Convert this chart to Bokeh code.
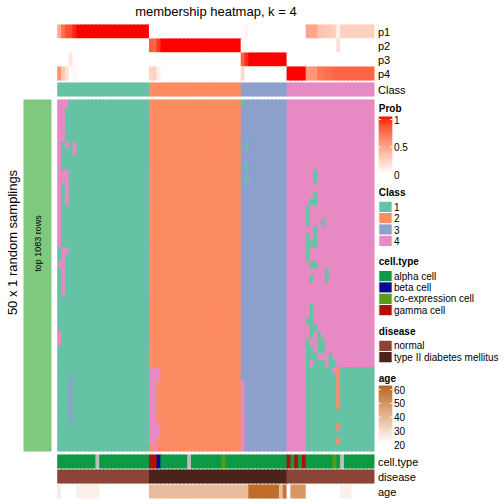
import math
import numpy as np
from bokeh.plotting import figure
from bokeh.models import Range1d
from bokeh.embed import file_html
from bokeh.resources import INLINE
from bokeh.core.properties import value

# ---------------- data ----------------
n_rows = 50
class_labels = ["1", "2", "3", "4"]
class_sizes = [24, 24, 12, 23]          # columns of each consensus class, in column order
class_colors = ["#66C2A5", "#FC8D62", "#8DA0CB", "#E78AC3"]

p1 = [0.44, 0.70, 0.84, 0.86, 0.96] + [1.0]*19 + [0.0]*24 + [0.02, 0.06] + [0.0]*10 + [0.0]*5 + [0.48, 0.46, 0.46, 0.32, 0.32, 0.28, 0.28, 0.24, 0.08] + [0.24]*9
p2 = [0.0]*24 + [0.78, 0.76, 0.92] + [1.0]*21 + [0.0]*12 + [0.0]*13 + [0.16] + [0.0]*9
p3 = [0.0, 0.0, 0.0, 0.14, 0.0] + [0.0]*19 + [0.0]*24 + [0.78, 0.94] + [1.0]*10 + [0.0]*23
p4 = [0.56, 0.30, 0.16, 0.0, 0.04] + [0.0]*19 + [0.22, 0.24, 0.08] + [0.0]*21 + [0.20, 0.0] + [0.0]*10 + [1.0]*5 + [0.52, 0.54, 0.54, 0.68, 0.68, 0.72, 0.72, 0.76, 0.76] + [0.76]*9

# cells of the 50 x 83 membership matrix that differ from their column's class:
# (first row, last row, columns, class shown)
deviations = [
    (0, 0, [0, 1, 2], 4), (1, 5, [0, 1], 4), (6, 6, [0, 2, 4], 4), (7, 7, [0, 4], 4),
    (8, 9, [0], 4), (10, 11, [0, 1, 2], 4), (12, 14, [0, 2], 4), (15, 20, [0], 4),
    (21, 21, [1, 2], 4), (22, 22, [1], 4), (23, 23, [0, 1], 4), (24, 27, [1], 4),
    (33, 34, [0], 4), (39, 45, [3], 3),
    (38, 39, [24, 25, 26], 4), (40, 45, [24, 25], 4), (46, 47, [24, 25, 26], 4),
    (48, 48, [24, 25], 4), (49, 49, [25], 4),
    (0, 0, [48], 1), (6, 6, [49], 1), (9, 9, [49], 1), (11, 11, [49], 1),
    (40, 49, [48], 4),
    (10, 11, [67], 1), (13, 13, [67], 1), (14, 14, [66, 67], 1), (15, 17, [65], 1),
    (17, 17, [69], 1), (18, 18, [67], 1), (19, 19, [65, 67], 1), (20, 20, [65, 66, 67], 1),
    (21, 22, [65], 1), (23, 23, [66, 67], 1), (24, 24, [70], 1), (25, 25, [66, 70], 1),
    (29, 30, [66], 1), (31, 31, [65, 66], 1), (32, 32, [66, 67], 1), (33, 33, [66, 68], 1),
    (34, 34, [65, 68, 69], 1), (35, 35, [65, 66, 68, 69], 1), (36, 36, [65, 66, 67, 71], 1),
    (37, 37, [65, 67, 68, 69, 71, 72], 1),
    (38, 49, list(range(65, 83)), 1), (38, 38, [72], 4),
    (38, 43, [73], 2), (46, 46, [73], 2), (48, 48, [73], 2),
]

cell_type_names = ["alpha cell", "beta cell", "co-expression cell", "gamma cell"]
cell_type_colors = ["#0E9A45", "#0B0B8E", "#569C17", "#AD1209"]
na_color = "#BEBEBE"
cell_type = (["alpha cell"]*10 + ["NA"] + ["alpha cell"]*13 + ["gamma cell"]*2 + ["beta cell"]
             + ["alpha cell"]*7 + ["NA"] + ["alpha cell"]*8 + ["co-expression cell"] + ["alpha cell"]*16
             + ["gamma cell", "alpha cell", "gamma cell", "alpha cell", "gamma cell"] + ["alpha cell"]*7
             + ["co-expression cell", "alpha cell", "NA"] + ["alpha cell"]*8)

disease_names = ["normal", "type II diabetes mellitus"]
disease_colors = ["#8B4436", "#4A2319"]
disease = ["normal"]*24 + ["type II diabetes mellitus"]*36 + ["normal"]*23

age_ticks = [60, 50, 40, 30, 20]
age = [25] + [20]*4 + [24]*6 + [20]*13 + [37]*26 + [58]*8 + [37, 56, 20] + [47]*4 + [20]*9 + [24]*3 + [20]*6
prob_ticks = [1, 0.5, 0]

# ---------------- colour helpers (LAB interpolation as colorRamp2) ----------------
_M = np.array([[0.4124564, 0.3575761, 0.1804375],
               [0.2126729, 0.7151522, 0.0721750],
               [0.0193339, 0.1191920, 0.9503041]])
_Mi = np.linalg.inv(_M)
_WP = np.array([0.95047, 1.0, 1.08883])

def _to_lab(h):
    h = h.lstrip("#")
    rgb = np.array([int(h[i:i+2], 16) / 255 for i in (0, 2, 4)])
    lin = np.where(rgb <= 0.04045, rgb / 12.92, ((rgb + 0.055) / 1.055) ** 2.4)
    xyz = _M @ lin / _WP
    d = 6 / 29
    f = np.where(xyz > d**3, np.cbrt(xyz), xyz / (3 * d * d) + 4 / 29)
    return np.array([116 * f[1] - 16, 500 * (f[0] - f[1]), 200 * (f[1] - f[2])])

def _from_lab(lab):
    d = 6 / 29
    fy = (lab[0] + 16) / 116
    fx = fy + lab[1] / 500
    fz = fy - lab[2] / 200
    f = np.array([fx, fy, fz])
    xyz = np.where(f > d, f**3, 3 * d * d * (f - 4 / 29)) * _WP
    lin = np.clip(_Mi @ xyz, 0, 1)
    rgb = np.where(lin <= 0.0031308, 12.92 * lin, 1.055 * lin ** (1 / 2.4) - 0.055)
    rgb = np.clip(np.round(rgb * 255), 0, 255).astype(int)
    return "#%02X%02X%02X" % tuple(rgb)

def ramp(c0, c1, t):
    t = min(max(t, 0.0), 1.0)
    return _from_lab(_to_lab(c0) * (1 - t) + _to_lab(c1) * t)

prob_col = lambda v: ramp("#FFFFFF", "#FF0000", v)
age_col = lambda v: ramp("#FFFFFF", "#B8671E", (v - 20) / 40)

# ---------------- layout ----------------
n_cols = sum(class_sizes)
col_class = sum([[k + 1] * s for k, s in enumerate(class_sizes)], [])
X0, X1 = 56.7, 374.0
CW = (X1 - X0) / n_cols
HM_T, HM_B = 99.0, 451.0
RH = (HM_B - HM_T) / n_rows
OV = 1.2   # overlap hidden under the next cell, removes anti-aliasing seams
FONT = value("Liberation Sans")

p = figure(width=504, height=504, x_range=Range1d(0, 504), y_range=Range1d(504, 0),
           output_backend="svg", toolbar_location=None, min_border=0,
           x_axis_location=None, y_axis_location=None)
p.xgrid.visible = False
p.ygrid.visible = False
p.outline_line_color = None

def add_row(colors, top, bot):
    left = [X0 + i * CW for i in range(n_cols)]
    right = [X0 + (i + 1) * CW + (OV if i < n_cols - 1 else 0) for i in range(n_cols)]
    p.quad(left=left, right=right, top=[top]*n_cols, bottom=[bot]*n_cols,
           fill_color=colors, line_color=None)

# top annotations
ann_rows = [("p1", p1, 24, 38), ("p2", p2, 38, 52), ("p3", p3, 52, 66), ("p4", p4, 66, 80)]
for name, vals, t, b in ann_rows:
    add_row([prob_col(v) for v in vals], t, b)
add_row([class_colors[c - 1] for c in col_class], 82, 96)

# main heatmap
mat = [[col_class[j] for j in range(n_cols)] for _ in range(n_rows)]
for r0, r1, cols, cl in deviations:
    for r in range(r0, r1 + 1):
        for c in cols:
            mat[r][c] = cl
L, R, T, B, F = [], [], [], [], []
for r in range(n_rows):
    for c in range(n_cols):
        L.append(X0 + c * CW)
        R.append(X0 + (c + 1) * CW + (OV if c < n_cols - 1 else 0))
        T.append(HM_T + r * RH)
        B.append(HM_T + (r + 1) * RH + (OV if r < n_rows - 1 else 0))
        F.append(class_colors[mat[r][c] - 1])
p.quad(left=L, right=R, top=T, bottom=B, fill_color=F, line_color=None)

# left split annotation bar
p.quad(left=[23], right=[51], top=[HM_T], bottom=[HM_B], fill_color="#7FC97F", line_color=None)

# bottom annotations
ct_map = dict(zip(cell_type_names, cell_type_colors))
add_row([ct_map.get(v, na_color) for v in cell_type], 454, 468)
dz_map = dict(zip(disease_names, disease_colors))
add_row([dz_map[v] for v in disease], 469, 483)
add_row([age_col(v) for v in age], 484, 498)

# annotation names
names = ["p1", "p2", "p3", "p4", "Class", "cell.type", "disease", "age"]
name_y = [31, 45, 59, 73, 89, 461, 476, 491]
p.text(x=[377.5]*len(names), y=name_y, text=names, text_font=FONT, text_font_size="11px",
       text_baseline="middle", text_align="left", text_color="black")

# titles
p.text(x=[215.4], y=[11], text=["membership heatmap, k = 4"], text_font=FONT, text_font_size="13px",
       text_baseline="middle", text_align="center", text_color="black")
p.text(x=[12], y=[242], text=["50 x 1 random samplings"], text_font=FONT, text_font_size="13px",
       text_baseline="middle", text_align="center", angle=math.pi / 2, text_color="black")
p.text(x=[37], y=[243], text=["top 1083 rows"], text_font=FONT, text_font_size="9px",
       text_baseline="middle", text_align="center", angle=math.pi / 2, text_color="black")

# ---------------- legends ----------------
LX0, LX1, LT = 378.3, 391.7, 393.5

def gradient(top, bot, cfun, n=60):
    ys = np.linspace(top, bot, n + 1)
    cols = [cfun(1 - (i + 0.5) / n) for i in range(n)]
    p.quad(left=[LX0]*n, right=[LX1]*n, top=list(ys[:-1]), bottom=list(ys[1:] + 0.8),
           fill_color=cols, line_color=None)

def titles(x, y, t):
    p.text(x=[x], y=[y], text=[t], text_font=FONT, text_font_size="10px", text_font_style="bold",
           text_baseline="middle", text_align="left", text_color="black")

def labels(ys, ts, size="10px"):
    p.text(x=[LT]*len(ts), y=ys, text=ts, text_font=FONT, text_font_size=size,
           text_baseline="middle", text_align="left", text_color="black")

def ticks(ys):
    for y in ys:
        p.segment(x0=[LX0, LX1 - 2], y0=[y, y], x1=[LX0 + 2, LX1], y1=[y, y],
                  line_color="white", line_width=1)

# Prob
titles(LX0, 108, "Prob")
gradient(116, 173, lambda t: prob_col(t))
py = [119 + (1 - v) * 55 for v in prob_ticks]
ticks(py)
labels(py, [str(v) for v in prob_ticks])

# Class
titles(LX0, 192.3, "Class")
cy = [200.7 + k * 11.33 for k in range(4)]
p.quad(left=[LX0]*4, right=[LX1]*4, top=cy, bottom=[y + 11.33 for y in cy],
       fill_color=class_colors, line_color="white", line_width=1)
labels([y + 5.67 for y in cy], class_labels)

# cell.type
titles(LX0, 260.7, "cell.type")
ty = [270 + k * 11.33 for k in range(4)]
p.quad(left=[LX0]*4, right=[LX1]*4, top=ty, bottom=[y + 11.33 for y in ty],
       fill_color=cell_type_colors, line_color="white", line_width=1)
labels([y + 5.67 for y in ty], cell_type_names)

# disease
titles(LX0, 331, "disease")
dy = [339.7 + k * 11.33 for k in range(2)]
p.quad(left=[LX0]*2, right=[LX1]*2, top=dy, bottom=[y + 11.33 for y in dy],
       fill_color=disease_colors, line_color="white", line_width=1)
labels([y + 5.67 for y in dy], disease_names)

# age
titles(LX0, 377.7, "age")
gradient(385, 443, lambda t: age_col(20 + 40 * t))
ay = [389 + (60 - v) / 40 * 55.3 for v in age_ticks]
ticks(ay)
labels(ay, [str(v) for v in age_ticks])

open("out.html", "w").write(file_html(p, INLINE))
